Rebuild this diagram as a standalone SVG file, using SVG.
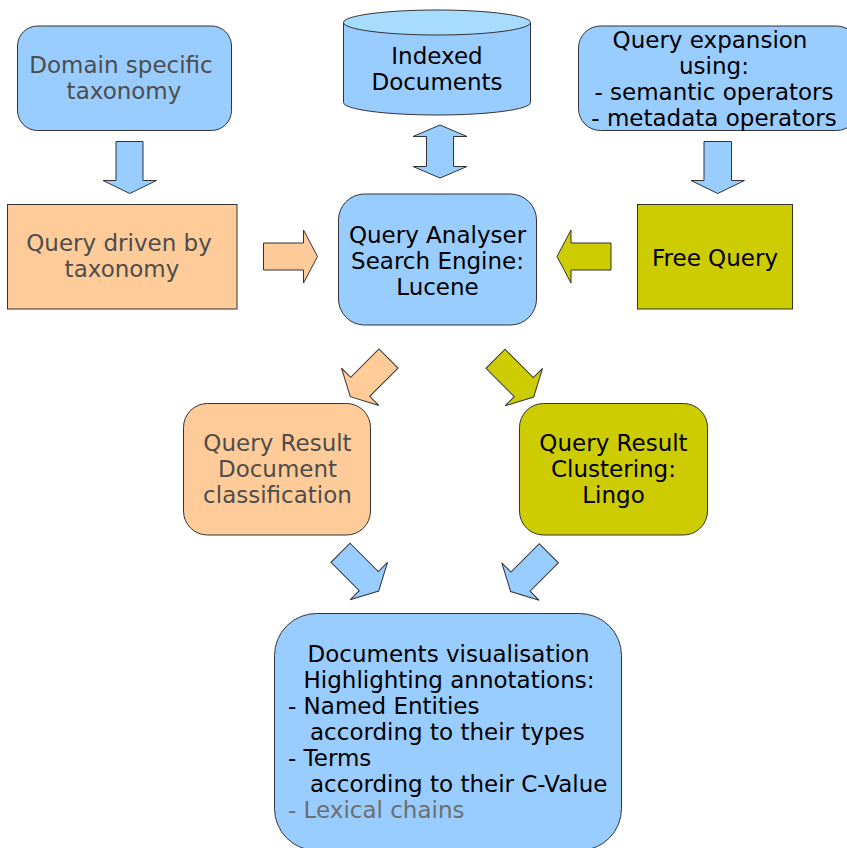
<svg xmlns="http://www.w3.org/2000/svg" width="847" height="848" viewBox="0 0 847 848">
<style>
text{font-family:"DejaVu Sans","Liberation Sans",sans-serif;font-size:23px;fill:#000;text-anchor:middle}
text.g{fill:#4d4d4d}
text.l{fill:#6e6e6e}
text.s{text-anchor:start}
.b{fill:#99ccff;stroke:#333;stroke-width:1}
.o{fill:#ffcc99;stroke:#333;stroke-width:1}
.y{fill:#cccc00;stroke:#333;stroke-width:1}
.top{fill:#a8dcff;stroke:#333;stroke-width:1}
</style>
<defs>
<polygon id="arr" points="0,-13.5 40,-13.5 40,-26.5 54,0 40,26.5 40,13.5 0,13.5"/>
</defs>
<rect width="847" height="848" fill="#fff"/>
<g id="connectors">
<polygon class="b" points="116,141.5 143,141.5 143,180.5 156.5,180.5 129.75,193.5 103,180.5 116,180.5"/>
<polygon class="b" points="704,141.5 731.5,141.5 731.5,180.5 744.5,180.5 717.75,193.5 691,180.5 704,180.5"/>
<polygon class="b" points="440,125 467,136.5 453.5,136.5 453.5,166.5 467,166.5 440,178 413,166.5 426.5,166.5 426.5,136.5 413,136.5"/>
<use href="#arr" class="o" transform="translate(263.5,256.5)"/>
<use href="#arr" class="y" transform="translate(611,256.5) rotate(180)"/>
<use href="#arr" class="o" transform="translate(388.5,358.5) rotate(135)"/>
<use href="#arr" class="y" transform="translate(495.5,358.8) rotate(45)"/>
<use href="#arr" class="b" transform="translate(340.5,552.8) rotate(45)"/>
<use href="#arr" class="b" transform="translate(548.8,553.3) rotate(135)"/>
</g>
<g id="domain">
<rect class="b" x="17.5" y="26" width="214" height="104.5" rx="20" ry="20"/>
<text class="g" x="121" y="72.5">Domain specific</text>
<text class="g" x="124" y="98.5">taxonomy</text>
</g>
<g id="indexed">
<path class="b" d="M343.5,22.5 V102.5 A93.5,12.5 0 0 0 530.5,102.5 V22.5 Z"/>
<ellipse class="top" cx="437" cy="22.5" rx="93.5" ry="12.5"/>
<text x="437" y="64">Indexed</text>
<text x="437" y="90">Documents</text>
</g>
<g id="expansion">
<rect class="b" x="578.5" y="26" width="280" height="104.5" rx="22" ry="22"/>
<text x="710" y="48">Query expansion</text>
<text x="714" y="74">using:</text>
<text x="714" y="100">- semantic operators</text>
<text x="714" y="125.5">- metadata operators</text>
</g>
<g id="querydriven">
<rect class="o" x="7.5" y="204.5" width="229.5" height="104.5"/>
<text class="g" x="119" y="251">Query driven by</text>
<text class="g" x="122" y="277">taxonomy</text>
</g>
<g id="analyser">
<rect class="b" x="338.5" y="194" width="198" height="131" rx="26" ry="26"/>
<text x="437.5" y="243">Query Analyser</text>
<text x="437.5" y="269">Search Engine:</text>
<text x="437.5" y="295">Lucene</text>
</g>
<g id="freequery">
<rect class="y" x="637.5" y="204.5" width="155" height="104.5"/>
<text x="715" y="265.5">Free Query</text>
</g>
<g id="classification">
<rect class="o" x="183.5" y="403.5" width="187" height="131.5" rx="24" ry="24"/>
<text class="g" x="277.5" y="451">Query Result</text>
<text class="g" x="277.5" y="477">Document</text>
<text class="g" x="277.5" y="503">classification</text>
</g>
<g id="clustering">
<rect class="y" x="519.5" y="403.5" width="188" height="131.5" rx="24" ry="24"/>
<text x="613.5" y="451">Query Result</text>
<text x="613.5" y="477">Clustering:</text>
<text x="613.5" y="503">Lingo</text>
</g>
<g id="visualisation">
<rect class="b" x="274.5" y="613.5" width="347" height="237" rx="42" ry="42"/>
<text x="448.5" y="662">Documents visualisation</text>
<text x="449" y="688">Highlighting annotations:</text>
<text class="s" x="288" y="714">- Named Entities</text>
<text class="s" x="310" y="740">according to their types</text>
<text class="s" x="288" y="766">- Terms</text>
<text class="s" x="310" y="792">according to their C-Value</text>
<text class="s l" x="288" y="818">- Lexical chains</text>
</g>
</svg>
